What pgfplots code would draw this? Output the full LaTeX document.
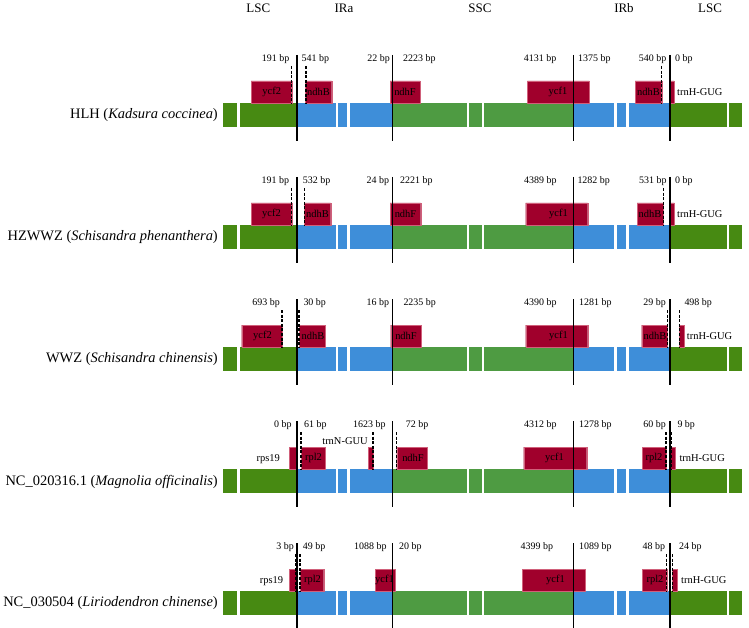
\documentclass[border=0pt]{standalone}
\usepackage{pgfplots}
\pgfplotsset{compat=1.18}
\usepackage{fontspec}
\setmainfont{Liberation Serif}
\definecolor{lscg}{HTML}{478A12}
\definecolor{irb}{HTML}{3E8ED9}
\definecolor{sscg}{HTML}{4E9B42}
\definecolor{genered}{HTML}{A0002C}
\definecolor{genebd}{HTML}{D0607A}
\newcommand\bpf{\fontsize{10}{12}\selectfont}
\newcommand\gf{\fontsize{10.5}{12}\selectfont}
\newcommand\rf{\fontsize{14.5}{16}\selectfont}
\newcommand\hf{\fontsize{13}{15}\selectfont}
\newcommand\rect[5]{\addplot[fill=#5,draw=none] coordinates {(#1,#3)(#2,#3)(#2,#4)(#1,#4)};}
\newcommand\gene[2]{\addplot[fill=genered,draw=genebd,line width=0.4bp] coordinates {(#1,-22)(#2,-22)(#2,0)(#1,0)(#1,-22)};}
\newcommand\dsh[1]{\addplot[black,line width=1.1bp,dash pattern=on 3bp off 1.6bp] coordinates {(#1,-37)(#1,0)};}
\newcommand\sol[1]{\addplot[black,line width=1.1bp] coordinates {(#1,-48)(#1,38)};}
\newcommand\strips{%
 \rect{223.3}{237.3}{0}{24}{lscg}
 \rect{240}{296.7}{0}{24}{lscg}
 \rect{296.7}{335.7}{0}{24}{irb}
 \rect{338.3}{347.3}{0}{24}{irb}
 \rect{350}{392.3}{0}{24}{irb}
 \rect{392.3}{466.7}{0}{24}{sscg}
 \rect{469.3}{481.7}{0}{24}{sscg}
 \rect{484.3}{573.3}{0}{24}{sscg}
 \rect{573.3}{614.3}{0}{24}{irb}
 \rect{617.3}{626}{0}{24}{irb}
 \rect{628.7}{670}{0}{24}{irb}
 \rect{670}{726.7}{0}{24}{lscg}
 \rect{729.3}{741.7}{0}{24}{lscg}
}
\newcommand\lines{\sol{297}\sol{392.3}\sol{573.3}\sol{670}}
\pgfplotsset{rowax/.style={scale only axis, width=749bp, height=122bp,
  xmin=0, xmax=749, ymin=-61, ymax=61, y dir=reverse, hide axis,
  clip=false, anchor=south west}}
\tikzset{bpl/.style={inner sep=0pt,font=\bpf},
  gl/.style={inner sep=0pt,font=\gf}}
\begin{document}
\begin{tikzpicture}
\useasboundingbox (0,0) rectangle (749bp,628bp);
% Row 1
\begin{axis}[rowax, at={(0bp,464bp)}]
\strips
\gene{251}{291.7}\gene{305}{331.7}\gene{390}{420}\gene{527.3}{589.3}\gene{635}{661.7}\gene{670}{674}
\dsh{291.7}\dsh{306}\dsh{661.7}
\lines
\node[gl] at (axis cs:271.7,-11) {ycf2};
\node[gl] at (axis cs:318.5,-11) {ndhB};
\node[gl] at (axis cs:405,-11) {ndhF};
\node[gl] at (axis cs:558,-11) {ycf1};
\node[gl] at (axis cs:648.5,-11) {ndhB};
\node[gl,anchor=west] at (axis cs:677,-11) {trnH-GUG};
\node[bpl,anchor=east] at (axis cs:289.5,-44) {191 bp};
\node[bpl,anchor=west] at (axis cs:301.5,-44) {541 bp};
\node[bpl,anchor=east] at (axis cs:390,-44) {22 bp};
\node[bpl,anchor=west] at (axis cs:403,-44) {2223 bp};
\node[bpl,anchor=east] at (axis cs:556.5,-44) {4131 bp};
\node[bpl,anchor=west] at (axis cs:578,-44) {1375 bp};
\node[bpl,anchor=east] at (axis cs:666.5,-44) {540 bp};
\node[bpl,anchor=west] at (axis cs:675,-44) {0 bp};
\node[inner sep=0pt,anchor=east,font=\rf] at (axis cs:218,12.5) {HLH (\textit{Kadsura coccinea})};
\node[font=\hf] at (axis cs:258.3,-95) {LSC};
\node[font=\hf] at (axis cs:344,-95) {IRa};
\node[font=\hf] at (axis cs:480,-95) {SSC};
\node[font=\hf] at (axis cs:624,-95) {IRb};
\node[font=\hf] at (axis cs:710,-95) {LSC};
\end{axis}
% Row 2
\begin{axis}[rowax, at={(0bp,342bp)}]
\strips
\gene{251}{291.7}\gene{304.3}{330.7}\gene{390}{420.7}\gene{525.7}{587.7}\gene{637}{663.3}\gene{670}{674.3}
\dsh{291.7}\dsh{304.3}\dsh{663.3}
\lines
\node[gl] at (axis cs:271.5,-11) {ycf2};
\node[gl] at (axis cs:317.5,-11) {ndhB};
\node[gl] at (axis cs:405.5,-11) {ndhF};
\node[gl] at (axis cs:558.5,-11) {ycf1};
\node[gl] at (axis cs:650,-11) {ndhB};
\node[gl,anchor=west] at (axis cs:677,-11) {trnH-GUG};
\node[bpl,anchor=east] at (axis cs:289.3,-44) {191 bp};
\node[bpl,anchor=west] at (axis cs:302.7,-44) {532 bp};
\node[bpl,anchor=east] at (axis cs:389.3,-44) {24 bp};
\node[bpl,anchor=west] at (axis cs:400,-44) {2221 bp};
\node[bpl,anchor=east] at (axis cs:556.7,-44) {4389 bp};
\node[bpl,anchor=west] at (axis cs:577.3,-44) {1282 bp};
\node[bpl,anchor=east] at (axis cs:666.7,-44) {531 bp};
\node[bpl,anchor=west] at (axis cs:675,-44) {0 bp};
\node[inner sep=0pt,anchor=east,font=\rf] at (axis cs:218,12.5) {HZWWZ (\textit{Schisandra phenanthera})};
\end{axis}
% Row 3
\begin{axis}[rowax, at={(0bp,220bp)}]
\strips
\gene{241.7}{282}\gene{299}{325.3}\gene{390.7}{421.3}\gene{525.7}{587.7}\gene{641.7}{667.3}\gene{679.3}{684.3}
\dsh{282}\dsh{299}\dsh{667.3}\dsh{679.3}
\lines
\node[gl] at (axis cs:262.5,-11) {ycf2};
\node[gl] at (axis cs:313,-11) {ndhB};
\node[gl] at (axis cs:406,-11) {ndhF};
\node[gl] at (axis cs:558.5,-11) {ycf1};
\node[gl] at (axis cs:655,-11) {ndhB};
\node[gl,anchor=west] at (axis cs:686.7,-11) {trnH-GUG};
\node[bpl,anchor=east] at (axis cs:280,-44) {693 bp};
\node[bpl,anchor=west] at (axis cs:303.3,-44) {30 bp};
\node[bpl,anchor=east] at (axis cs:389.3,-44) {16 bp};
\node[bpl,anchor=west] at (axis cs:403.3,-44) {2235 bp};
\node[bpl,anchor=east] at (axis cs:556.7,-44) {4390 bp};
\node[bpl,anchor=west] at (axis cs:579,-44) {1281 bp};
\node[bpl,anchor=east] at (axis cs:666,-44) {29 bp};
\node[bpl,anchor=west] at (axis cs:684.3,-44) {498 bp};
\node[inner sep=0pt,anchor=east,font=\rf] at (axis cs:218,12.5) {WWZ (\textit{Schisandra chinensis})};
\end{axis}
% Row 4
\begin{axis}[rowax, at={(0bp,98bp)}]
\strips
\gene{289}{297}\gene{301}{325.3}\gene{368.3}{373}\gene{396.7}{427}\gene{523.7}{586.7}\gene{642}{666}\gene{670}{675.3}
\dsh{301}\dsh{373}\dsh{396.7}\dsh{666}\dsh{671.5}
\lines
\node[gl,anchor=east] at (axis cs:280,-10) {rps19};
\node[gl] at (axis cs:313.5,-11) {rpl2};
\node[gl] at (axis cs:345,-28) {trnN-GUU};
\node[gl] at (axis cs:413,-11) {ndhF};
\node[gl] at (axis cs:554.5,-11) {ycf1};
\node[gl] at (axis cs:654,-11) {rpl2};
\node[gl,anchor=west] at (axis cs:679.3,-11) {trnH-GUG};
\node[bpl,anchor=east] at (axis cs:291.7,-44) {0 bp};
\node[bpl,anchor=west] at (axis cs:304,-44) {61 bp};
\node[bpl,anchor=east] at (axis cs:385.7,-44) {1623 bp};
\node[bpl,anchor=west] at (axis cs:405.7,-44) {72 bp};
\node[bpl,anchor=east] at (axis cs:556.7,-44) {4312 bp};
\node[bpl,anchor=west] at (axis cs:579,-44) {1278 bp};
\node[bpl,anchor=east] at (axis cs:666,-44) {60 bp};
\node[bpl,anchor=west] at (axis cs:677.3,-44) {9 bp};
\node[inner sep=0pt,anchor=east,font=\rf] at (axis cs:218,12.5) {NC\_020316.1 (\textit{Magnolia officinalis})};
\end{axis}
% Row 5
\begin{axis}[rowax, at={(0bp,-24bp)}]
\strips
\gene{289}{296}\gene{300}{323.7}\gene{375.3}{395}\gene{522.3}{585.3}\gene{642.3}{666.7}\gene{672.3}{677}
\dsh{296}\dsh{300}\dsh{666.7}\dsh{672.3}
\lines
\node[gl,anchor=east] at (axis cs:283.3,-10) {rps19};
\node[gl] at (axis cs:312.5,-11) {rpl2};
\node[gl] at (axis cs:384.5,-11) {ycf1};
\node[gl] at (axis cs:555.5,-11) {ycf1};
\node[gl] at (axis cs:655,-11) {rpl2};
\node[gl,anchor=west] at (axis cs:681,-11) {trnH-GUG};
\node[bpl,anchor=east] at (axis cs:294,-44) {3 bp};
\node[bpl,anchor=west] at (axis cs:302.7,-44) {49 bp};
\node[bpl,anchor=east] at (axis cs:386.7,-44) {1088 bp};
\node[bpl,anchor=west] at (axis cs:399,-44) {20 bp};
\node[bpl,anchor=east] at (axis cs:553.3,-44) {4399 bp};
\node[bpl,anchor=west] at (axis cs:579,-44) {1089 bp};
\node[bpl,anchor=east] at (axis cs:665.3,-44) {48 bp};
\node[bpl,anchor=west] at (axis cs:679,-44) {24 bp};
\node[inner sep=0pt,anchor=east,font=\rf] at (axis cs:218,12.5) {NC\_030504 (\textit{Liriodendron chinense})};
\end{axis}
\end{tikzpicture}
\end{document}
